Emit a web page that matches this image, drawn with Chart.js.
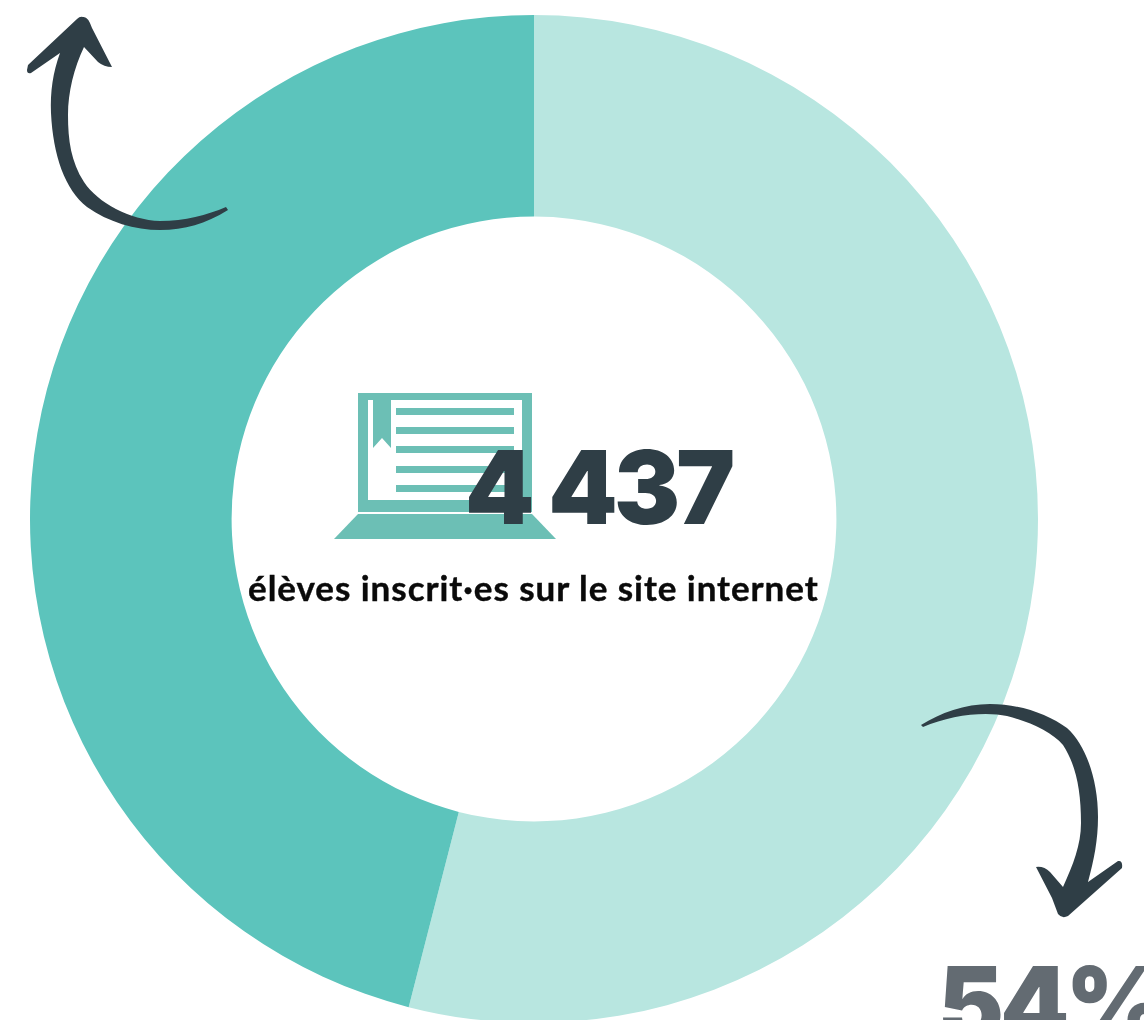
<!DOCTYPE html>
<html lang="fr">
<head>
<meta charset="utf-8">
<title>Élèves inscrit·es</title>
<script src="https://cdn.jsdelivr.net/npm/chart.js@4"></script>
<style>
    html, body { margin: 0; padding: 0; background: #fff; }
    #page { position: relative; width: 1144px; height: 1020px; overflow: hidden; font-family: Lato, sans-serif; }
    #donut { position: absolute; left: 30px; top: 15px; }
    #art { position: absolute; left: 0; top: 0; }
    .txt { position: absolute; white-space: nowrap; line-height: 1; }
    #total { left: 465px; top: 436px; font-family: Inter, sans-serif; font-size: 102px; font-weight: 900; letter-spacing: -4px; word-spacing: 2px; color: #2f3e46; transform: scaleX(0.97); transform-origin: left top; }
    #caption { left: 248px; top: 570px; font-size: 35px; font-weight: 700; letter-spacing: 0.95px; color: #0a0a0a; -webkit-text-stroke: 0.4px #0a0a0a; }
    #share { left: 938px; top: 952px; font-family: Inter, sans-serif; font-size: 102px; font-weight: 900; letter-spacing: -4px; color: #636b72; transform: scaleX(0.97); transform-origin: left top; }
</style>
</head>
<body>
<div id="page">
    <canvas id="donut" width="1008" height="1008"></canvas>

    <!-- icone ordinateur + fleches -->
    <svg id="art" width="1144" height="1020" viewBox="0 0 1144 1020">
        <g fill="#6cbfb5">
            <path fill-rule="evenodd" d="M358 393H532V512H358Z M368 400V500H522V400Z"/>
            <path d="M373 400H391V448L382 438L373 448Z"/>
            <rect x="396" y="408" width="118" height="7"/>
            <rect x="396" y="427" width="118" height="7"/>
            <rect x="396" y="446" width="118" height="7"/>
            <rect x="396" y="466" width="118" height="7"/>
            <rect x="396" y="485" width="118" height="7"/>
            <path d="M358 514H532L556 539H334Z"/>
        </g>
        <g fill="#2f3e46">
            <path d="M83 17Q88 16 92 28L112 67Q104 67 98 62L84 47C74 68 68 92 68 115C68 140 71 162 84 182C98 203 130 220 160 221C185 221 207 215 226 207L228 210C205 224 185 230 160 230C135 230 108 222 87 207C65 190 53 155 51 113C50 92 53 72 60 53L31 73Q27 74 27 70L28 65L77 19Q80 16 83 17Z"/>
            <path d="M921 725C940 713 965 704 990 704C1020 704 1048 714 1067 728C1086 745 1098 780 1098 817C1098 840 1094 860 1088 882L1118 861Q1123 860 1122 868L1068 916Q1062 919 1058 914L1052 898L1036 867Q1044 866 1050 872L1063 887C1073 865 1081 845 1081 823C1081 790 1076 765 1063 745C1052 732 1030 722 1007 716C985 711 950 715 923 727Z"/>
        </g>
    </svg>

    <div class="txt" id="total"></div>
    <div class="txt" id="caption"></div>
    <div class="txt" id="share"></div>
</div>

<script>
    const categories = ["Groupe 54 %", "Groupe 46 %"];
    const shares = [54, 46];
    const sliceColors = ["#b8e6e0", "#5cc4bc"];

    const totalLabel = "4 437";
    const captionLabel = "élèves inscrit·es sur le site internet";
    const shareLabel = "54%";

    document.getElementById('total').textContent = totalLabel;
    document.getElementById('caption').textContent = captionLabel;
    document.getElementById('share').textContent = shareLabel;

    new Chart(document.getElementById('donut').getContext('2d'), {
        type: 'doughnut',
        data: {
            labels: categories,
            datasets: [{
                data: shares,
                backgroundColor: sliceColors,
                borderWidth: 0
            }]
        },
        options: {
            responsive: false,
            animation: false,
            cutout: "60%",
            layout: { padding: 0 },
            plugins: {
                legend: { display: false },
                tooltip: { enabled: false }
            }
        }
    });
</script>
</body>
</html>
